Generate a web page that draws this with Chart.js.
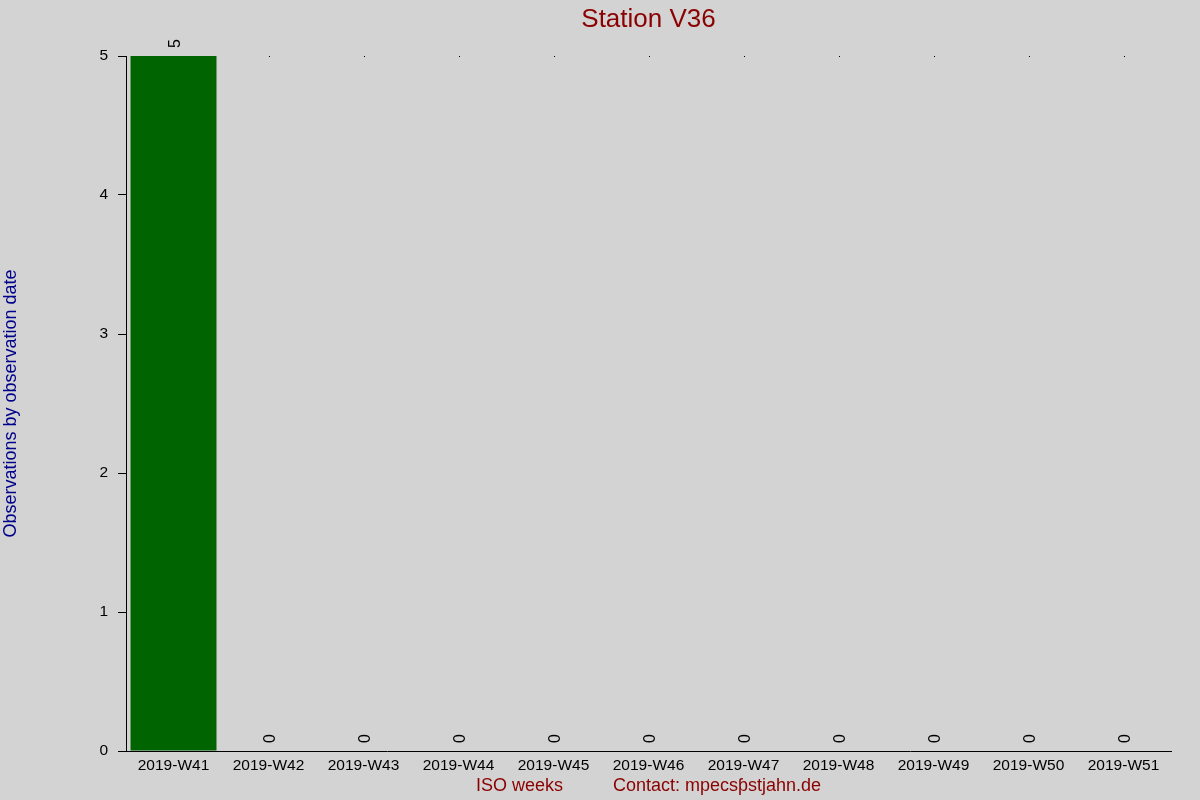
<!DOCTYPE html>
<html>
<head>
<meta charset="utf-8">
<script src="https://cdn.jsdelivr.net/npm/chart.js@4"></script>
<style>
  html, body { margin: 0; padding: 0; background: #d3d3d3; }
  #wrap { width: 1200px; height: 800px; }
</style>
</head>
<body>
<div id="wrap"><canvas id="chart" width="1200" height="800"></canvas></div>
<script>
const weeks = ["2019-W41", "2019-W42", "2019-W43", "2019-W44", "2019-W45", "2019-W46",
  "2019-W47", "2019-W48", "2019-W49", "2019-W50", "2019-W51"];
const observations = [5, 0, 0, 0, 0, 0, 0, 0, 0, 0, 0];
const yMin = 0;
const yMax = 5;

const FONT = "'Liberation Sans', Arial, sans-serif";

// grey page behind the plot, plus the tiny dots at the top of each category
const bgPlugin = {
  id: "bg",
  beforeDraw(chart) {
    const ctx = chart.ctx;
    ctx.save();
    ctx.fillStyle = "#d3d3d3";
    ctx.fillRect(0, 0, chart.width, chart.height);
    ctx.restore();
  },
  beforeDatasetsDraw(chart) {
    const ctx = chart.ctx;
    const xScale = chart.scales.x;
    const topY = chart.scales.y.getPixelForValue(yMax);
    ctx.save();
    ctx.fillStyle = "#000";
    weeks.forEach((w, i) => {
      ctx.fillRect(Math.round(xScale.getPixelForValue(i)), Math.round(topY), 1, 1);
    });
    ctx.restore();
  },
};

// rotated value labels over bars
const labelPlugin = {
  id: "barLabels",
  afterDatasetsDraw(chart) {
    const ctx = chart.ctx;
    const meta = chart.getDatasetMeta(0);
    ctx.save();
    ctx.fillStyle = "#000";
    meta.data.forEach((bar, i) => {
      ctx.save();
      ctx.translate(bar.x + 2, bar.y - 8);
      ctx.rotate(-Math.PI / 2);
      ctx.font = "16px " + FONT;
      ctx.textAlign = "left";
      ctx.textBaseline = "middle";
      ctx.fillText(String(observations[i]), 0, 0);
      ctx.restore();
    });
    ctx.restore();
  },
};

new Chart(document.getElementById("chart"), {
  type: "bar",
  data: {
    labels: weeks,
    datasets: [{
      data: observations,
      backgroundColor: "#006400",
      borderWidth: 0,
      categoryPercentage: 1,
      barPercentage: 0.905,
    }],
  },
  options: {
    responsive: false,
    animation: false,
    devicePixelRatio: 1,
    layout: { padding: { left: 0, right: 29, top: 0, bottom: 0 } },
    plugins: {
      legend: { display: false },
      tooltip: { enabled: false },
      title: {
        display: true,
        text: "Station V36",
        color: "#8b0000",
        fullSize: false,
        font: { family: FONT, size: 26, weight: "normal" },
        padding: { top: 4.4, bottom: 20.4 },
      },
    },
    scales: {
      x: {
        grid: { display: false, drawTicks: false },
        border: { display: true, color: "#000", width: 1 },
        ticks: { color: "#000", font: { family: FONT, size: 15.5 }, padding: 5, maxRotation: 0, autoSkip: false },
        title: {
          display: true,
          text: "ISO weeks          Contact: mpecsƥstjahn.de",
          color: "#8b0000",
          font: { family: FONT, size: 18 },
          padding: { top: 0, bottom: 3 },
        },
        afterFit(scale) { scale.height = 49; },
      },
      y: {
        min: yMin,
        max: yMax,
        grid: { drawOnChartArea: false, drawTicks: true, tickLength: 8, color: "#000" },
        border: { display: true, color: "#000", width: 1 },
        ticks: { stepSize: 1, color: "#000", font: { family: FONT, size: 15.5 }, padding: 10 },
        title: {
          display: true,
          text: "Observations by observation date",
          color: "#00008b",
          font: { family: FONT, size: 18 },
          padding: { top: 0, bottom: 0 },
        },
        afterFit(scale) { scale.width = 126; },
      },
    },
  },
  plugins: [bgPlugin, labelPlugin],
});
</script>
</body>
</html>
